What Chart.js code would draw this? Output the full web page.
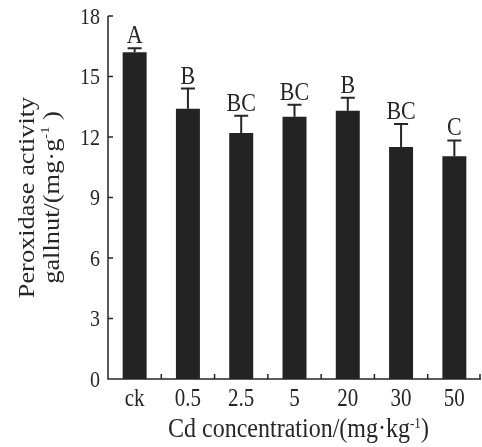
<!DOCTYPE html>
<html>
<head>
<meta charset="utf-8">
<script src="https://cdn.jsdelivr.net/npm/chart.js@4.4.1/dist/chart.umd.min.js"></script>
<style>
    body { margin: 0; background: #fff; }
    #wrap { width: 482px; height: 447px; }
</style>
</head>
<body>
<div id="wrap"><canvas id="chart"></canvas></div>
<script>
// Data
const categories = ['ck', '0.5', '2.5', '5', '20', '30', '50'];
const peroxidase = [16.2, 13.4, 12.2, 13.0, 13.3, 11.5, 11.05];
const errors = [0.2, 1.0, 0.85, 0.6, 0.65, 1.15, 0.78];
const letters = ['A', 'B', 'BC', 'BC', 'B', 'BC', 'C'];
const yTicks = [0, 3, 6, 9, 12, 15, 18];

const SERIF = '"Liberation Serif", "Times New Roman", serif';
const INK = '#262626';

// Draw a run of text pieces, some of them superscript, centred on (0,0)
function drawRich(ctx, parts, size) {
    const widths = parts.map(p => {
        ctx.font = (p.sup ? size * 0.55 : size) + 'px ' + SERIF;
        return ctx.measureText(p.t).width;
    });
    const total = widths.reduce((a, b) => a + b, 0);
    let x = -total / 2;
    parts.forEach((p, i) => {
        ctx.font = (p.sup ? size * 0.55 : size) + 'px ' + SERIF;
        ctx.fillText(p.t, x, p.sup ? -size * 0.33 : 0);
        x += widths[i];
    });
}

// Text squeezed/stretched a bit taller, like the scanned original
function tallText(ctx, text, px, py, size, stretch) {
    ctx.save();
    ctx.translate(px, py);
    ctx.scale(1, stretch);
    ctx.font = size + 'px ' + SERIF;
    ctx.fillText(text, 0, 0);
    ctx.restore();
}

const decorations = {
    id: 'decorations',
    afterDatasetsDraw(chart) {
        const ctx = chart.ctx;
        const x = chart.scales.x;
        const y = chart.scales.y;
        const meta = chart.getDatasetMeta(0);
        ctx.save();
        ctx.strokeStyle = INK;
        ctx.fillStyle = INK;

        // error bars (upper half only) and significance letters
        ctx.lineWidth = 2;
        ctx.textAlign = 'center';
        ctx.textBaseline = 'alphabetic';
        meta.data.forEach((bar, i) => {
            const top = y.getPixelForValue(peroxidase[i]);
            const hi = y.getPixelForValue(peroxidase[i] + errors[i]);
            ctx.beginPath();
            ctx.moveTo(bar.x, top);
            ctx.lineTo(bar.x, hi);
            ctx.moveTo(bar.x - 7, hi);
            ctx.lineTo(bar.x + 7, hi);
            ctx.stroke();
            tallText(ctx, letters[i], bar.x, hi - 5, 22, 1.1);
        });

        // axes with inward ticks
        ctx.lineWidth = 1.5;
        const left = chart.chartArea.left;
        const right = chart.chartArea.right;
        const bottom = y.getPixelForValue(0);
        const top = y.getPixelForValue(18);
        ctx.beginPath();
        ctx.moveTo(left, top);
        ctx.lineTo(left, bottom);
        ctx.lineTo(right, bottom);
        yTicks.forEach(v => {
            const py = y.getPixelForValue(v);
            ctx.moveTo(left, py);
            ctx.lineTo(left + 5, py);
        });
        for (let i = 0; i < categories.length; i++) {
            const px = i < categories.length - 1
                ? (x.getPixelForValue(i) + x.getPixelForValue(i + 1)) / 2
                : right - 1;
            ctx.moveTo(px, bottom);
            ctx.lineTo(px, bottom - 5);
        }
        ctx.stroke();

        // tick labels
        ctx.textAlign = 'right';
        ctx.textBaseline = 'middle';
        yTicks.forEach(v => {
            tallText(ctx, String(v), left - 8, y.getPixelForValue(v) + 1.5, 20, 1.2);
        });
        ctx.textAlign = 'center';
        ctx.textBaseline = 'alphabetic';
        categories.forEach((c, i) => {
            tallText(ctx, c, x.getPixelForValue(i), bottom + 27, 21, 1.15);
        });

        // axis titles
        ctx.textAlign = 'left';
        ctx.textBaseline = 'middle';
        const midY = (top + bottom) / 2;
        ctx.save();
        ctx.translate(28, midY);
        ctx.rotate(-Math.PI / 2);
        ctx.scale(1.1, 1);
        drawRich(ctx, [{ t: 'Peroxidase activity' }], 24);
        ctx.restore();
        ctx.save();
        ctx.translate(53, midY);
        ctx.rotate(-Math.PI / 2);
        ctx.scale(1.1, 1);
        drawRich(ctx, [{ t: 'gallnut/(mg·g' }, { t: '-1', sup: true }, { t: ' )' }], 24);
        ctx.restore();

        ctx.save();
        ctx.textBaseline = 'alphabetic';
        ctx.translate((left + right) / 2 + 4, 437);
        ctx.scale(1, 1.12);
        drawRich(ctx, [{ t: 'Cd concentration/(mg·kg' }, { t: '-1', sup: true }, { t: ')' }], 24);
        ctx.restore();

        ctx.restore();
    }
};

new Chart(document.getElementById('chart'), {
    type: 'bar',
    data: {
        labels: categories,
        datasets: [{
            data: peroxidase,
            backgroundColor: '#232323',
            borderWidth: 0,
            barPercentage: 0.45,
            categoryPercentage: 1
        }]
    },
    options: {
        responsive: true,
        maintainAspectRatio: false,
        animation: false,
        layout: { padding: { top: 16, right: 1, left: 0, bottom: 0 } },
        plugins: {
            legend: { display: false },
            tooltip: { enabled: false }
        },
        scales: {
            x: {
                grid: { display: false, drawTicks: false },
                border: { display: false },
                ticks: { display: false },
                afterFit(scale) { scale.height = 68; }
            },
            y: {
                min: 0,
                max: 18,
                grid: { display: false, drawTicks: false },
                border: { display: false },
                ticks: { display: false, stepSize: 3 },
                afterFit(scale) { scale.width = 108; }
            }
        }
    },
    plugins: [decorations]
});
</script>
</body>
</html>
